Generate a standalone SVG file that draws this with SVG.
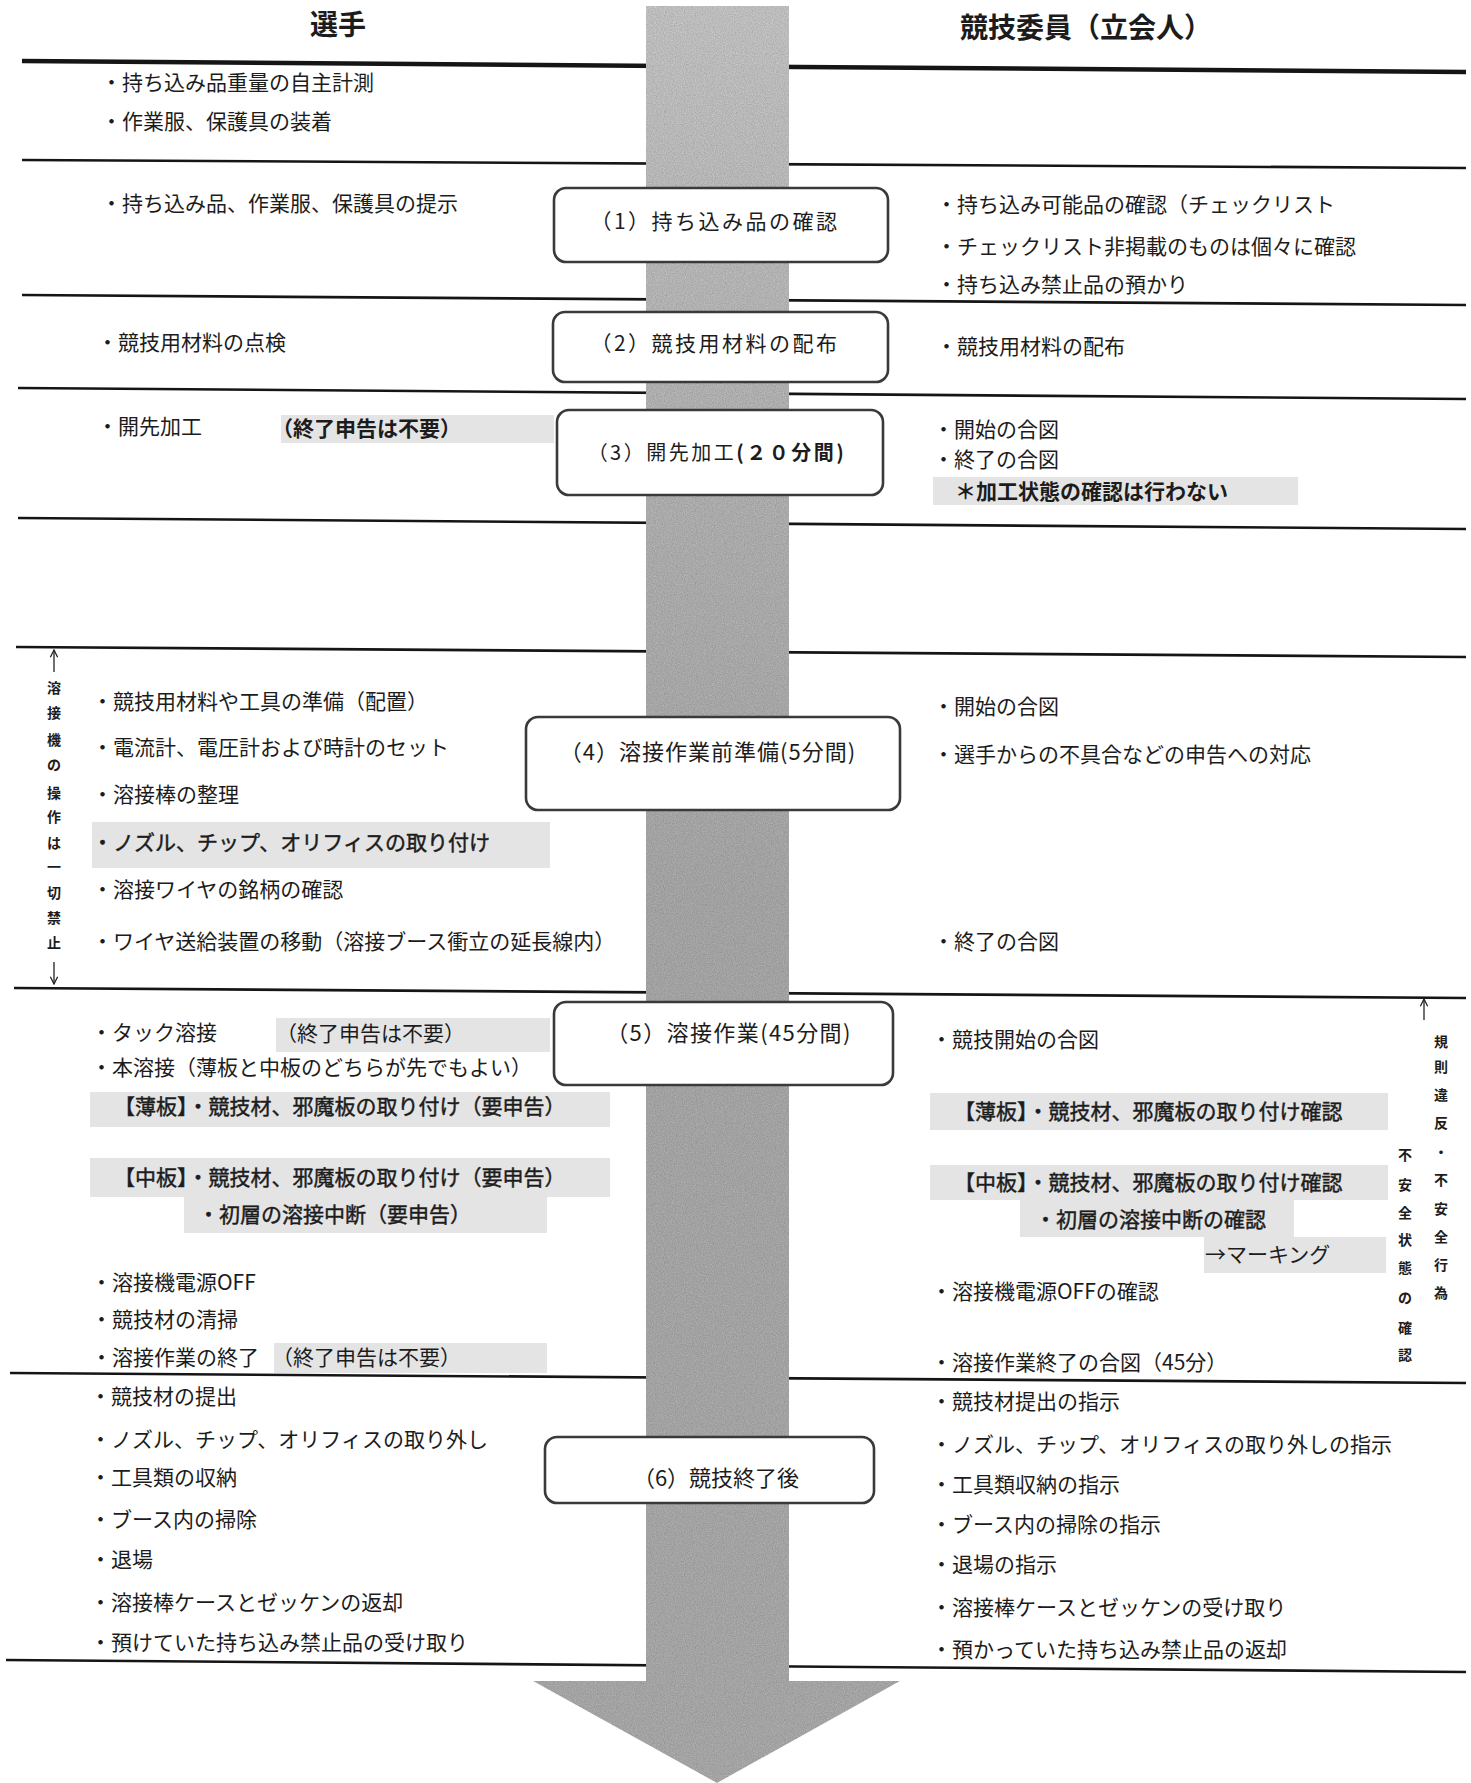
<svg xmlns="http://www.w3.org/2000/svg" width="1471" height="1783" viewBox="0 0 1471 1783">
<defs>
<style>
text{font-family:'Noto Sans CJK JP','Noto Sans CJK SC',sans-serif;fill:#1c1c1c}
.t{font-size:21px}
.b{font-weight:bold}
.m{stroke:#1c1c1c;stroke-width:0.45px}
.title{font-size:28px;font-weight:bold;text-anchor:middle}
.bx{fill:#fff;stroke:#3a3a3a;stroke-width:2.6}
.bt{font-size:22px;text-anchor:middle}
.sep{stroke:#151515;stroke-width:2.6}
.hl{fill:#e4e4e4}
.v{font-size:14px;font-weight:bold;text-anchor:middle}
.ar{stroke:#222;stroke-width:1.3;fill:none}
</style>
<linearGradient id="g" x1="0" y1="0" x2="0" y2="1">
<stop offset="0" stop-color="#bcbcbc"/>
<stop offset="0.25" stop-color="#ababab"/>
<stop offset="0.5" stop-color="#a1a1a1"/>
<stop offset="1" stop-color="#a3a3a3"/>
</linearGradient>
<filter id="grain" x="0" y="0" width="1" height="1">
<feTurbulence type="fractalNoise" baseFrequency="0.9" numOctaves="2" seed="4" result="n"/>
<feColorMatrix in="n" type="matrix" values="0.3 0 0 0 0.35  0.3 0 0 0 0.35  0.3 0 0 0 0.35  0 0 0 0 1" result="gn"/>
<feBlend in="gn" in2="SourceGraphic" mode="overlay" result="bl"/>
<feComposite in="bl" in2="SourceGraphic" operator="in"/>
</filter>
<marker id="ah" viewBox="0 0 10 10" refX="9" refY="5" markerWidth="7" markerHeight="7" orient="auto-start-reverse">
<path d="M1,1 L9,5 L1,9" fill="none" stroke="#222" stroke-width="1.4"/>
</marker>
</defs>

<g id="separators">
<line class="sep" x1="22" y1="61" x2="1466" y2="72" style="stroke-width:4.5"/>
<line class="sep" x1="22" y1="160" x2="1466" y2="168"/>
<line class="sep" x1="22" y1="295" x2="1466" y2="305"/>
<line class="sep" x1="18" y1="388" x2="1466" y2="399"/>
<line class="sep" x1="18" y1="518" x2="1466" y2="529"/>
<line class="sep" x1="16" y1="647" x2="1466" y2="657"/>
<line class="sep" x1="14" y1="988" x2="1466" y2="998"/>
<line class="sep" x1="10" y1="1373" x2="1466" y2="1383"/>
<line class="sep" x1="6" y1="1660" x2="1466" y2="1672"/>
</g>

<g id="highlights">
<rect class="hl" x="281" y="415" width="273" height="28"/>
<rect class="hl" x="933" y="477" width="365" height="28"/>
<rect class="hl" x="92" y="822" width="458" height="46"/>
<rect class="hl" x="276" y="1018" width="274" height="34"/>
<rect class="hl" x="90" y="1092" width="520" height="35"/>
<rect class="hl" x="90" y="1158" width="520" height="39"/>
<rect class="hl" x="184" y="1197" width="363" height="36"/>
<rect class="hl" x="274" y="1343" width="273" height="30"/>
<rect class="hl" x="930" y="1093" width="458" height="37"/>
<rect class="hl" x="930" y="1165" width="458" height="35"/>
<rect class="hl" x="1020" y="1200" width="274" height="37"/>
<rect class="hl" x="1204" y="1237" width="182" height="36"/>
</g>

<g id="connectors">
<path id="flow-arrow" d="M646,6 L789,6 L789,1681 L900,1681 L717,1783 L533,1681 L646,1681 Z" fill="url(#g)" filter="url(#grain)"/>
<line class="ar" x1="54" y1="672" x2="54" y2="650" marker-end="url(#ah)"/>
<line class="ar" x1="54" y1="962" x2="54" y2="984" marker-end="url(#ah)"/>
<line class="ar" x1="1424" y1="1020" x2="1424" y2="999" marker-end="url(#ah)"/>
</g>

<g id="headers">
<text class="title" x="338" y="35">選手</text>
<text class="title" x="1086" y="38">競技委員（立会人）</text>
</g>

<g id="node1">
<rect class="bx" x="554" y="188" width="334" height="74" rx="12"/>
<text class="bt" x="715" y="229" style="font-size:21px;letter-spacing:2.5px">（1）持ち込み品の確認</text>
</g>
<g id="node2">
<rect class="bx" x="553" y="312" width="335" height="70" rx="12"/>
<text class="bt" x="715" y="351" style="font-size:21px;letter-spacing:2.5px">（2）競技用材料の配布</text>
</g>
<g id="node3">
<rect class="bx" x="557" y="410" width="326" height="85" rx="12"/>
<text class="bt" x="717" y="460" style="font-size:20px;letter-spacing:2.5px">（3）開先加工<tspan class="b">(２０分間)</tspan></text>
</g>
<g id="node4">
<rect class="bx" x="526" y="717" width="374" height="93" rx="12"/>
<text class="bt" x="708" y="760" style="letter-spacing:1px">（4）溶接作業前準備(5分間)</text>
</g>
<g id="node5">
<rect class="bx" x="554" y="1002" width="339" height="83" rx="12"/>
<text class="bt" x="729" y="1041" style="letter-spacing:1.4px">（5）溶接作業(45分間)</text>
</g>
<g id="node6">
<rect class="bx" x="545" y="1437" width="329" height="66" rx="12"/>
<text class="bt" x="716" y="1486">（6）競技終了後</text>
</g>

<g id="player-items">
<text class="t" x="101" y="90">・持ち込み品重量の自主計測</text>
<text class="t" x="101" y="129">・作業服、保護具の装着</text>
<text class="t" x="101" y="211">・持ち込み品、作業服、保護具の提示</text>
<text class="t" x="97" y="350">・競技用材料の点検</text>
<text class="t" x="97" y="434">・開先加工</text>
<text class="t b" x="272" y="436">（終了申告は不要）</text>
<text class="t" x="92" y="709">・競技用材料や工具の準備（配置）</text>
<text class="t" x="92" y="755">・電流計、電圧計および時計のセット</text>
<text class="t" x="92" y="802">・溶接棒の整理</text>
<text class="t m" x="92" y="850">・ノズル、チップ、オリフィスの取り付け</text>
<text class="t" x="92" y="897">・溶接ワイヤの銘柄の確認</text>
<text class="t" x="92" y="949">・ワイヤ送給装置の移動（溶接ブース衝立の延長線内）</text>
<text class="t" x="91" y="1040">・タック溶接</text>
<text class="t" x="276" y="1041">（終了申告は不要）</text>
<text class="t" x="91" y="1075">・本溶接（薄板と中板のどちらが先でもよい）</text>
<text class="t m" x="114" y="1114">【薄板】・競技材、邪魔板の取り付け（要申告）</text>
<text class="t m" x="114" y="1185">【中板】・競技材、邪魔板の取り付け（要申告）</text>
<text class="t m" x="198" y="1222">・初層の溶接中断（要申告）</text>
<text class="t" x="91" y="1290">・溶接機電源OFF</text>
<text class="t" x="91" y="1327">・競技材の清掃</text>
<text class="t" x="91" y="1365">・溶接作業の終了</text>
<text class="t" x="272" y="1365">（終了申告は不要）</text>
<text class="t" x="90" y="1404">・競技材の提出</text>
<text class="t" x="90" y="1447">・ノズル、チップ、オリフィスの取り外し</text>
<text class="t" x="90" y="1485">・工具類の収納</text>
<text class="t" x="90" y="1527">・ブース内の掃除</text>
<text class="t" x="90" y="1567">・退場</text>
<text class="t" x="90" y="1610">・溶接棒ケースとゼッケンの返却</text>
<text class="t" x="90" y="1650">・預けていた持ち込み禁止品の受け取り</text>
</g>

<g id="judge-items">
<text class="t" x="936" y="212">・持ち込み可能品の確認（チェックリスト</text>
<text class="t" x="936" y="254">・チェックリスト非掲載のものは個々に確認</text>
<text class="t" x="936" y="292">・持ち込み禁止品の預かり</text>
<text class="t" x="936" y="354">・競技用材料の配布</text>
<text class="t" x="933" y="437">・開始の合図</text>
<text class="t" x="933" y="467">・終了の合図</text>
<text class="t b" x="955" y="499">＊加工状態の確認は行わない</text>
<text class="t" x="933" y="714">・開始の合図</text>
<text class="t" x="933" y="762">・選手からの不具合などの申告への対応</text>
<text class="t" x="933" y="949">・終了の合図</text>
<text class="t" x="931" y="1047">・競技開始の合図</text>
<text class="t m" x="954" y="1119">【薄板】・競技材、邪魔板の取り付け確認</text>
<text class="t m" x="954" y="1190">【中板】・競技材、邪魔板の取り付け確認</text>
<text class="t m" x="1035" y="1227">・初層の溶接中断の確認</text>
<text class="t" x="1205" y="1262">→マーキング</text>
<text class="t" x="931" y="1299">・溶接機電源OFFの確認</text>
<text class="t" x="931" y="1370">・溶接作業終了の合図（45分）</text>
<text class="t" x="931" y="1409">・競技材提出の指示</text>
<text class="t" x="931" y="1452">・ノズル、チップ、オリフィスの取り外しの指示</text>
<text class="t" x="931" y="1492">・工具類収納の指示</text>
<text class="t" x="931" y="1532">・ブース内の掃除の指示</text>
<text class="t" x="931" y="1572">・退場の指示</text>
<text class="t" x="931" y="1615">・溶接棒ケースとゼッケンの受け取り</text>
<text class="t" x="931" y="1657">・預かっていた持ち込み禁止品の返却</text>
</g>

<g id="annotations">
<text class="v"><tspan x="54" y="693">溶</tspan><tspan x="54" y="718">接</tspan><tspan x="54" y="745">機</tspan><tspan x="54" y="770">の</tspan><tspan x="54" y="798">操</tspan><tspan x="54" y="822">作</tspan><tspan x="54" y="848">は</tspan><tspan x="54" y="872">一</tspan><tspan x="54" y="898">切</tspan><tspan x="54" y="923">禁</tspan><tspan x="54" y="948">止</tspan></text>
<text class="v"><tspan x="1441" y="1047">規</tspan><tspan x="1441" y="1072">則</tspan><tspan x="1441" y="1100">違</tspan><tspan x="1441" y="1128">反</tspan><tspan x="1441" y="1157">・</tspan><tspan x="1441" y="1185">不</tspan><tspan x="1441" y="1214">安</tspan><tspan x="1441" y="1242">全</tspan><tspan x="1441" y="1270">行</tspan><tspan x="1441" y="1298">為</tspan></text>
<text class="v"><tspan x="1405" y="1160">不</tspan><tspan x="1405" y="1190">安</tspan><tspan x="1405" y="1218">全</tspan><tspan x="1405" y="1245">状</tspan><tspan x="1405" y="1273">態</tspan><tspan x="1405" y="1303">の</tspan><tspan x="1405" y="1333">確</tspan><tspan x="1405" y="1360">認</tspan></text>
</g>
</svg>
